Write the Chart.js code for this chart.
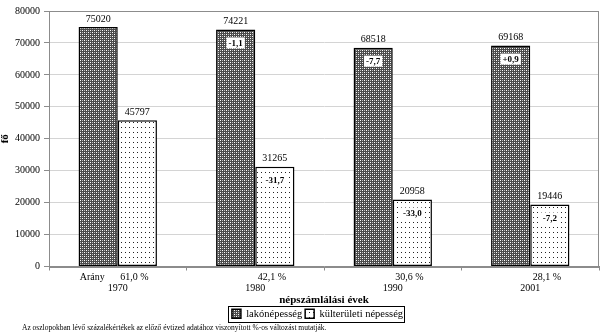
<!DOCTYPE html>
<html>
<head>
<meta charset="utf-8">
<script src="https://cdn.jsdelivr.net/npm/chart.js@4"></script>
<style>
  html, body { margin: 0; padding: 0; background: #fff; }
  #wrap { width: 600px; height: 334px; position: relative; }
</style>
</head>
<body>
<div id="wrap"><canvas id="chart" width="600" height="334"></canvas></div>
<script>
// census years and values
const years = ["1970", "1980", "1990", "2001"];
const lakoNepesseg = [75020, 74221, 68518, 69168];
const kulteruletiNepesseg = [45797, 31265, 20958, 19446];
// change vs previous decade (%)
const lakoValtozas = [null, "-1,1", "-7,7", "+0,9"];
const kulterValtozas = [null, "-31,7", "-33,0", "-7,2"];
// share of outskirts population
const aranyok = ["61,0 %", "42,1 %", "30,6 %", "28,1 %"];
const yTicks = [0, 10000, 20000, 30000, 40000, 50000, 60000, 70000, 80000];
const labj = "Az oszlopokban lévő százalékértékek az előző évtized adatához viszonyított %-os változást mutatják.";

const SERIF = "'Liberation Serif', 'Times New Roman', serif";

function makePattern(kind) {
    const c = document.createElement("canvas");
    const ctx = c.getContext("2d");
    if (kind === "cross") {
        c.width = 4; c.height = 4;
        ctx.fillStyle = "#4a4a4a";
        ctx.fillRect(0, 0, 4, 4);
        ctx.fillStyle = "#ffffff";
        ctx.fillRect(0, 0, 1, 1);
        ctx.fillRect(2, 2, 1, 1);
        ctx.fillStyle = "#bdbdbd";
        ctx.fillRect(2, 0, 1, 1);
        ctx.fillRect(0, 2, 1, 1);
    } else {
        c.width = 4; c.height = 5;
        ctx.fillStyle = "#ffffff";
        ctx.fillRect(0, 0, 4, 5);
        ctx.fillStyle = "#222";
        ctx.fillRect(1, 2, 1, 1);
    }
    return ctx.createPattern(c, "repeat");
}

// value labels above bars, change labels inside, share row below the axis
const labelPlugin = {
    id: "labelPlugin",
    afterLayout(chart) {
        // legend sits a bit right of the canvas centre in the original
        chart.legend.left += 18;
        chart.legend.right += 18;
    },
    afterDatasetsDraw(chart) {
        const ctx = chart.ctx;
        const changes = [lakoValtozas, kulterValtozas];
        ctx.save();
        chart.data.datasets.forEach((ds, di) => {
            const meta = chart.getDatasetMeta(di);
            meta.data.forEach((bar, i) => {
                ctx.fillStyle = "#000";
                ctx.font = "10px " + SERIF;
                ctx.textAlign = "center";
                ctx.textBaseline = "bottom";
                ctx.fillText(ds.data[i], bar.x, bar.y - 3);
                const ch = changes[di][i];
                if (ch) {
                    ctx.font = "bold 9px " + SERIF;
                    const w = ctx.measureText(ch).width + 4;
                    ctx.fillStyle = "#fff";
                    ctx.fillRect(bar.x - w / 2, bar.y + 8, w, 11);
                    ctx.fillStyle = "#000";
                    ctx.textBaseline = "middle";
                    ctx.fillText(ch, bar.x, bar.y + 14);
                }
            });
        });
        // share row
        const m0 = chart.getDatasetMeta(0), m1 = chart.getDatasetMeta(1);
        const rowY = chart.chartArea.bottom + 11;
        ctx.font = "10px " + SERIF;
        ctx.fillStyle = "#000";
        ctx.textAlign = "center";
        ctx.textBaseline = "middle";
        ctx.fillText("Arány", m0.data[0].x - 6, rowY);
        m1.data.forEach((bar, i) => {
            ctx.fillText(aranyok[i], bar.x - 3, rowY);
        });
        ctx.restore();
    },
    afterDraw(chart) {
        const ctx = chart.ctx;
        const a = chart.chartArea;
        ctx.save();
        ctx.strokeStyle = "#8c8c8c";
        ctx.lineWidth = 1;
        ctx.strokeRect(Math.round(a.left) + 0.5, Math.round(a.top) + 0.5,
            Math.round(a.right - a.left) - 1, Math.round(a.bottom - a.top));
        // legend frame
        const boxes = chart.legend.legendHitBoxes;
        if (boxes && boxes.length) {
            let l = Infinity, t = Infinity, r = -Infinity, b = -Infinity;
            boxes.forEach(h => {
                l = Math.min(l, h.left); t = Math.min(t, h.top);
                r = Math.max(r, h.left + h.width); b = Math.max(b, h.top + h.height);
            });
            ctx.strokeStyle = "#000";
            ctx.strokeRect(Math.round(l - 4) + 0.5, Math.round(t - 3) + 0.5,
                Math.round(r - l + 5), Math.round(b - t + 5));
        }
        // footnote
        ctx.fillStyle = "#000";
        ctx.font = "7.5px " + SERIF;
        ctx.textAlign = "left";
        ctx.textBaseline = "middle";
        ctx.fillText(labj, 22, 328);
        ctx.restore();
    }
};

new Chart(document.getElementById("chart"), {
    type: "bar",
    data: {
        labels: years.map(y => ["", y]),
        datasets: [
            {
                label: "lakónépesség",
                data: lakoNepesseg,
                backgroundColor: makePattern("cross"),
                borderColor: "#000",
                borderWidth: 1.5,
                borderSkipped: false,
            },
            {
                label: "külterületi népesség",
                data: kulteruletiNepesseg,
                backgroundColor: makePattern("dots"),
                borderColor: "#000",
                borderWidth: 1.5,
                borderSkipped: false,
            },
        ],
    },
    options: {
        responsive: false,
        animation: false,
        devicePixelRatio: 1,
        layout: { padding: { top: 11, right: 1, left: 0, bottom: 5 } },
        datasets: {
            bar: { categoryPercentage: 0.57, barPercentage: 1 },
        },
        scales: {
            x: {
                grid: {
                    drawOnChartArea: false,
                    drawTicks: true,
                    tickLength: 4,
                    color: "#8c8c8c",
                    offset: true,
                },
                border: { color: "#8c8c8c" },
                ticks: {
                    color: "#000",
                    font: { family: SERIF, size: 10, lineHeight: 1.1 },
                    padding: 1,
                    maxRotation: 0,
                },
                title: {
                    display: true,
                    text: "népszámlálási évek",
                    color: "#000",
                    font: { family: SERIF, size: 11, weight: "bold", lineHeight: 1 },
                    padding: { top: 0, bottom: 0 },
                },
            },
            y: {
                min: 0,
                max: 80000,
                afterBuildTicks(scale) {
                    scale.ticks = yTicks.map(v => ({ value: v }));
                },
                grid: {
                    color: "#d4d4d4",
                    tickLength: 5,
                    tickColor: "#8c8c8c",
                },
                border: { color: "#8c8c8c" },
                ticks: {
                    color: "#000",
                    font: { family: SERIF, size: 10 },
                    padding: 4,
                    callback: v => String(v),
                },
                title: {
                    display: true,
                    text: "fő",
                    color: "#000",
                    font: { family: SERIF, size: 11, weight: "bold", lineHeight: 1 },
                    padding: { top: 0, bottom: 0 },
                },
            },
        },
        plugins: {
            legend: {
                position: "bottom",
                labels: {
                    color: "#000",
                    font: { family: SERIF, size: 10.5 },
                    boxWidth: 9,
                    boxHeight: 9,
                    padding: 3,
                    useBorderRadius: false,
                },
            },
            title: { display: false },
            tooltip: { enabled: false },
        },
    },
    plugins: [labelPlugin],
});
</script>
</body>
</html>
